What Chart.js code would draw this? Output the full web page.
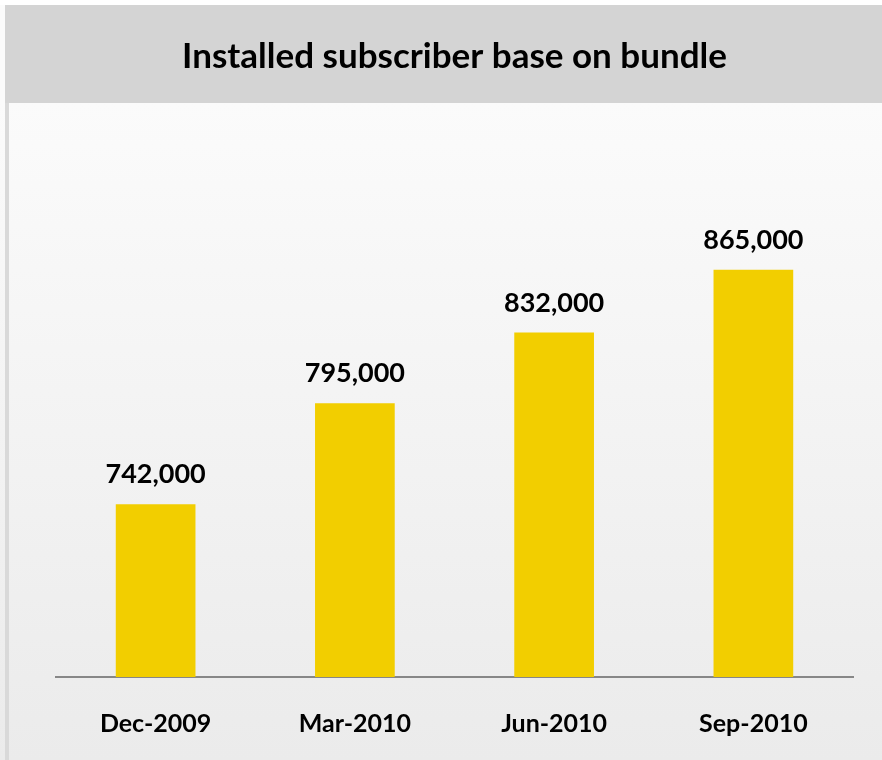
<!DOCTYPE html>
<html>
<head>
<meta charset="utf-8">
<script src="https://cdn.jsdelivr.net/npm/chart.js@4.4.0/dist/chart.umd.min.js"></script>
<style>
  html, body { margin: 0; padding: 0; background: #ffffff; }
  #wrap { position: relative; width: 882px; height: 760px; }
  canvas { display: block; }
</style>
</head>
<body>
<div id="wrap"><canvas id="c" width="882" height="760"></canvas></div>
<script>
const categories = ['Dec-2009', 'Mar-2010', 'Jun-2010', 'Sep-2010'];
const subscribers = [742000, 795000, 832000, 865000];
const chartTitle = 'Installed subscriber base on bundle';
const axisMin = 651500;
const axisMax = 901500;

const FONT = 'Lato, "Open Sans", sans-serif';

const backdrop = {
  id: 'backdrop',
  beforeDraw(chart) {
    const ctx = chart.ctx;
    const W = chart.width, H = chart.height;
    ctx.save();
    const g = ctx.createLinearGradient(0, 103, 0, H);
    g.addColorStop(0, '#fbfbfb');
    g.addColorStop(1, '#ebebeb');
    ctx.fillStyle = g;
    ctx.fillRect(0, 0, W, H);
    ctx.fillStyle = '#ffffff';
    ctx.fillRect(0, 0, W, 5);
    ctx.fillStyle = '#d4d4d4';
    ctx.fillRect(5, 5, W - 5, 98);
    ctx.fillStyle = '#d9d9d9';
    ctx.fillRect(5, 103, 4, H - 103);
    ctx.restore();
  }
};

const valueLabels = {
  id: 'valueLabels',
  afterDatasetsDraw(chart) {
    const ctx = chart.ctx;
    const meta = chart.getDatasetMeta(0);
    ctx.save();
    ctx.font = 'bold 27px ' + FONT;
    ctx.fillStyle = '#000000';
    ctx.textAlign = 'center';
    ctx.textBaseline = 'alphabetic';
    meta.data.forEach((bar, i) => {
      const v = chart.data.datasets[0].data[i];
      ctx.fillText(v.toLocaleString('en-US'), bar.x, bar.y - 21);
    });
    ctx.restore();
  }
};

new Chart(document.getElementById('c'), {
  type: 'bar',
  data: {
    labels: categories,
    datasets: [{
      data: subscribers,
      backgroundColor: '#f2ce00',
      borderWidth: 0,
      barPercentage: 0.4,
      categoryPercentage: 1.0
    }]
  },
  options: {
    responsive: false,
    animation: false,
    devicePixelRatio: 1,
    layout: { padding: { left: 56, right: 29, top: 0, bottom: -11 } },
    plugins: {
      legend: { display: false },
      tooltip: { enabled: false },
      title: {
        display: true,
        text: chartTitle,
        color: '#000000',
        font: { family: FONT, size: 35, weight: 'bold', lineHeight: 1.2 },
        padding: { top: 36, bottom: 122 }
      }
    },
    scales: {
      x: {
        grid: { display: false, drawTicks: false },
        border: { display: true, color: '#878787', width: 2 },
        ticks: {
          color: '#000000',
          padding: 32,
          font: { family: FONT, size: 25, weight: 'bold', lineHeight: 1.2 }
        }
      },
      y: {
        display: false,
        min: axisMin,
        max: axisMax
      }
    }
  },
  plugins: [backdrop, valueLabels]
});
</script>
</body>
</html>
